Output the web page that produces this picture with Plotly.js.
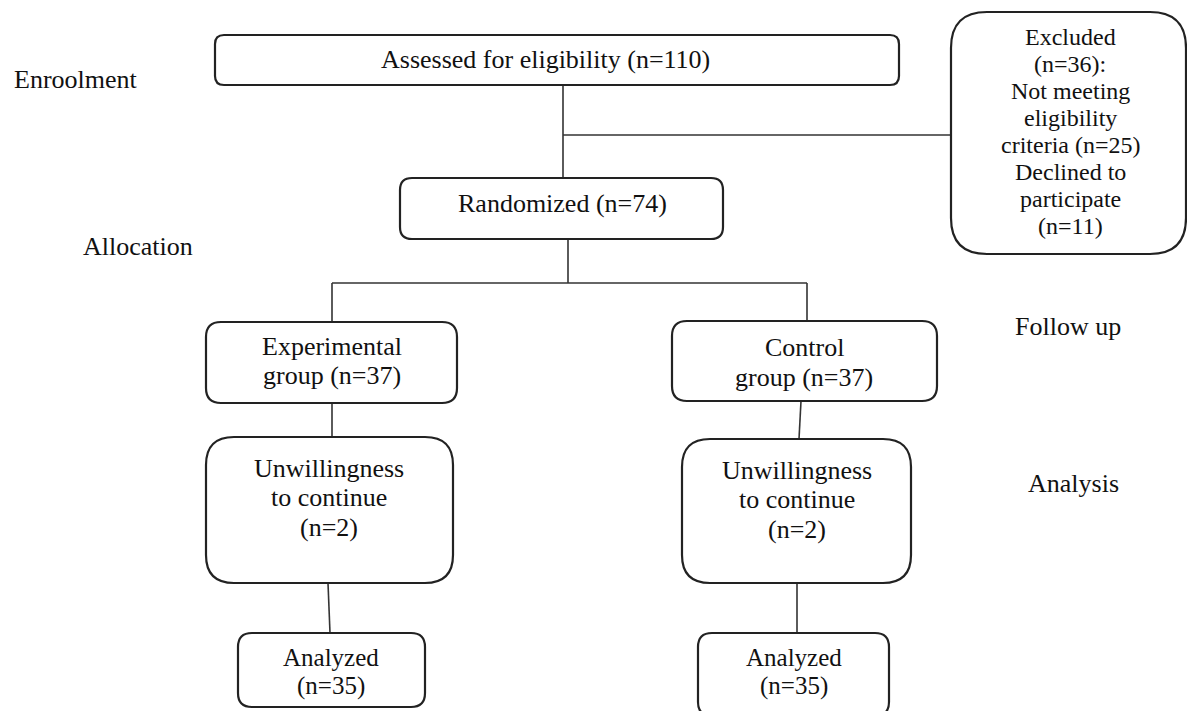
<!DOCTYPE html>
<html>
<head>
<meta charset="utf-8">
<script src="https://cdn.plot.ly/plotly-3.0.1.min.js"></script>
<style>html,body{margin:0;padding:0;background:#fff;}#chart{width:1187px;height:711px;}</style>
</head>
<body>
<div id="chart"></div>
<script>
// ---- Data ----
const stageLabels = ["Enroolment", "Allocation", "Follow up", "Analysis"];
const assessedN = 110;
const excludedN = 36;
const notMeetingN = 25;
const declinedN = 11;
const randomizedN = 74;
const groupNames = ["Experimental", "Control"];
const allocatedN = [37, 37];
const discontinuedN = [2, 2];
const analyzedN = [35, 35];

// ---- Text for each box, built from the data ----
const assessedLines = [`Assessed for eligibility (n=${assessedN})`];
const excludedLines = ["Excluded", `(n=${excludedN}):`, "Not meeting", "eligibility",
  `criteria (n=${notMeetingN})`, "Declined to", "participate", `(n=${declinedN})`];
const randomizedLines = [`Randomized (n=${randomizedN})`];
const groupLines = groupNames.map((g, i) => [g, `group (n=${allocatedN[i]})`]);
const discontinuedLines = discontinuedN.map(n => ["Unwillingness", "to continue", `(n=${n})`]);
const analyzedLines = analyzedN.map(n => ["Analyzed", `(n=${n})`]);

// ---- Layout geometry (pixel space of the page) ----
const boxes = [
  {x0: 215, y0: 35,  x1: 899,  y1: 85,  r: 9,  cx: 545, fs: 26, ys: [59], lines: assessedLines},
  {x0: 951, y0: 12,  x1: 1186, y1: 254, r: 36, cx: 1070, fs: 24, ys: [37, 64, 91, 118, 145, 172, 199, 226], lines: excludedLines},
  {x0: 400, y0: 178, x1: 723,  y1: 239, r: 12, cx: 562, fs: 26, ys: [203], lines: randomizedLines},
  {x0: 206, y0: 322, x1: 457,  y1: 403, r: 15, cx: 332, fs: 26, ys: [346, 375.5], lines: groupLines[0]},
  {x0: 672, y0: 321, x1: 937,  y1: 401, r: 15, cx: 804, fs: 26, ys: [347.5, 377], lines: groupLines[1]},
  {x0: 206, y0: 437, x1: 453,  y1: 583, r: 28, cx: 329, fs: 26, ys: [468, 497.5, 527], lines: discontinuedLines[0]},
  {x0: 682, y0: 439, x1: 911,  y1: 583, r: 28, cx: 797, fs: 26, ys: [470, 499.5, 529], lines: discontinuedLines[1]},
  {x0: 238, y0: 633, x1: 425,  y1: 707, r: 14, cx: 331, fs: 25, ys: [657, 685.5], lines: analyzedLines[0]},
  {x0: 698, y0: 633, x1: 889,  y1: 716, r: 14, cx: 794, fs: 25, ys: [657, 685.5], lines: analyzedLines[1]}
];
const connectors = [
  [563, 85, 563, 178],
  [563, 135, 951, 135],
  [568, 239, 568, 283],
  [332, 283, 807, 283],
  [332, 283, 332, 322],
  [807, 283, 807, 321],
  [332, 403, 332, 437],
  [801, 401, 799, 439],
  [328, 583, 330, 633],
  [797, 583, 797, 633]
];
const stagePos = [
  {x: 12,   y: 79,  },
  {x: 81,   y: 246, },
  {x: 1013, y: 326, },
  {x: 1026, y: 483, }
];

const FONT = "Liberation Serif, 'Times New Roman', Times, serif";
const TXT = "#111";
const FS = 26;

function rrect(b) {
  const {x0, y0, x1, y1, r} = b;
  return `M ${x0 + r},${y0} L ${x1 - r},${y0} Q ${x1},${y0} ${x1},${y0 + r} ` +
         `L ${x1},${y1 - r} Q ${x1},${y1} ${x1 - r},${y1} L ${x0 + r},${y1} ` +
         `Q ${x0},${y1} ${x0},${y1 - r} L ${x0},${y0 + r} Q ${x0},${y0} ${x0 + r},${y0} Z`;
}

const shapes = [];
connectors.forEach(c => shapes.push({
  type: "line", xref: "x", yref: "y", x0: c[0], y0: c[1], x1: c[2], y1: c[3],
  line: {color: "#333", width: 1.6}
}));
boxes.forEach(b => shapes.push({
  type: "path", xref: "x", yref: "y", path: rrect(b),
  line: {color: "#222", width: 2.2}, fillcolor: "rgba(0,0,0,0)"
}));

const annotations = [];
boxes.forEach(b => b.lines.forEach((t, i) => annotations.push({
  xref: "x", yref: "y", x: b.cx, y: b.ys[i], text: t, showarrow: false,
  xanchor: "center", yanchor: "middle", borderpad: 0,
  font: {family: FONT, size: b.fs, color: TXT}
})));
stageLabels.forEach((s, i) => annotations.push({
  xref: "x", yref: "y", x: stagePos[i].x, y: stagePos[i].y, text: s, showarrow: false,
  xanchor: "left", yanchor: "middle", font: {family: FONT, size: FS, color: TXT}
}));

const data = [{
  type: "scatter", mode: "markers", x: [0, 1187], y: [0, 711],
  marker: {opacity: 0}, hoverinfo: "skip", showlegend: false
}];

const layout = {
  width: 1187, height: 711,
  margin: {l: 0, r: 0, t: 0, b: 0},
  paper_bgcolor: "#fff", plot_bgcolor: "#fff",
  xaxis: {range: [0, 1187], visible: false, fixedrange: true},
  yaxis: {range: [711, 0], visible: false, fixedrange: true},
  showlegend: false,
  shapes: shapes,
  annotations: annotations
};

Plotly.newPlot("chart", data, layout, {displayModeBar: false, staticPlot: true});
</script>
</body>
</html>
